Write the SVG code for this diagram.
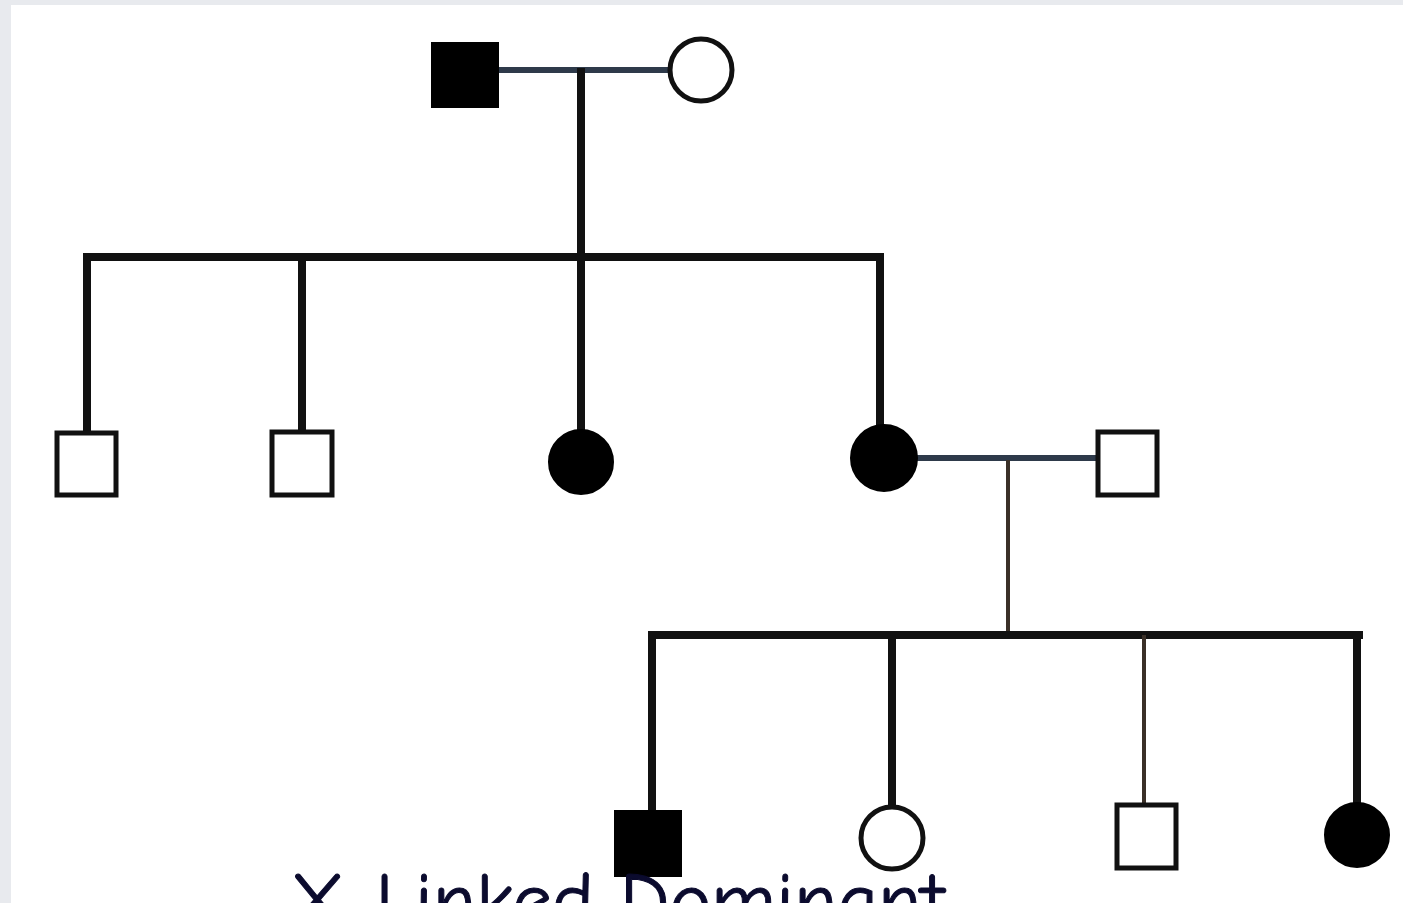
<svg xmlns="http://www.w3.org/2000/svg" width="1403" height="903" viewBox="0 0 1403 903">
<style>
.ln{stroke:#111;stroke-width:8;fill:none;stroke-linecap:square}
.mar{stroke:#2e3a4a;stroke-width:6;fill:none}
.thin{stroke:#3a3028;stroke-width:4;fill:none}
.aff{fill:#000;stroke:#000;stroke-width:4}
.un{fill:#fff;stroke:#111;stroke-width:5}
.lbl{font-family:"Comic Sans MS","Comic Neue","DejaVu Sans",sans-serif;font-size:77px;fill:#0b0b2e;stroke:#0b0b2e;stroke-width:1}
</style>
<rect x="0" y="0" width="1403" height="903" fill="#e8eaee"/>
<rect x="11" y="5" width="1392" height="898" fill="#fff"/>
<g id="connectors">
<line class="mar" x1="497" y1="70" x2="670" y2="70"/>
<line class="ln" x1="581" y1="72" x2="581" y2="257"/>
<line class="ln" x1="87" y1="257" x2="880" y2="257"/>
<line class="ln" x1="87" y1="257" x2="87" y2="432"/>
<line class="ln" x1="302" y1="257" x2="302" y2="430"/>
<line class="ln" x1="581" y1="257" x2="581" y2="430"/>
<line class="ln" x1="880" y1="257" x2="880" y2="426"/>
<line class="mar" x1="916" y1="458" x2="1097" y2="458"/>
<line class="thin" x1="1008" y1="460" x2="1008" y2="635"/>
<line class="ln" x1="652" y1="635" x2="1359" y2="635"/>
<line class="ln" x1="652" y1="635" x2="652" y2="810"/>
<line class="ln" x1="892" y1="635" x2="892" y2="803"/>
<line class="thin" x1="1144" y1="635" x2="1144" y2="803"/>
<line class="ln" x1="1357" y1="635" x2="1357" y2="803"/>
</g>
<g id="gp-father"><rect class="aff" x="433" y="44" width="64" height="62"/></g>
<g id="gp-mother"><circle class="un" cx="701" cy="70" r="31"/></g>
<g id="son1"><rect class="un" x="57" y="433" width="59" height="62"/></g>
<g id="son2"><rect class="un" x="272" y="432" width="60" height="63"/></g>
<g id="daughter1"><circle class="aff" cx="581" cy="462" r="31"/></g>
<g id="daughter2"><circle class="aff" cx="884" cy="458" r="32"/></g>
<g id="son-in-law"><rect class="un" x="1098" y="432" width="59" height="63"/></g>
<g id="gc-son1"><rect class="aff" x="616" y="812" width="64" height="63"/></g>
<g id="gc-daughter1"><circle class="un" cx="892" cy="838" r="31"/></g>
<g id="gc-son2"><rect class="un" x="1117" y="805" width="59" height="63"/></g>
<g id="gc-daughter2"><circle class="aff" cx="1357" cy="835" r="31"/></g>
<g id="title"><text class="lbl" x="290" y="926" textLength="654" lengthAdjust="spacingAndGlyphs">X-Linked Dominant</text></g>
</svg>
